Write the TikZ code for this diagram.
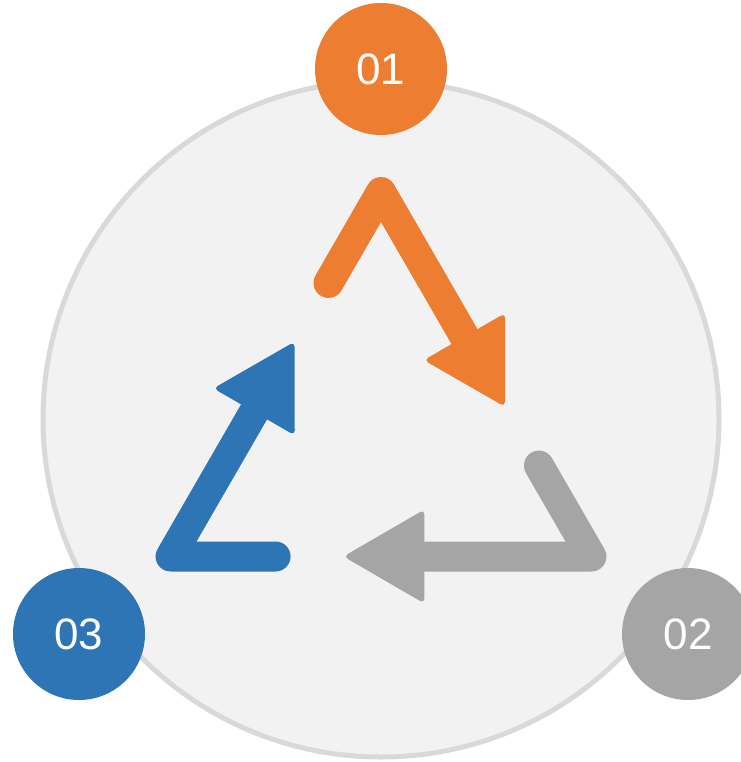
\documentclass[tikz,border=0pt]{standalone}
\usepackage{fontspec}
\setmainfont{Liberation Sans}
\usepackage{tikz}
\definecolor{cycorange}{HTML}{ED7D31}
\definecolor{cycgray}{HTML}{A5A5A5}
\definecolor{cycblue}{HTML}{2E75B6}
\definecolor{discfill}{HTML}{F2F2F2}
\definecolor{discline}{HTML}{D9D9D9}
\tikzset{badge/.style={
    circle, fill=#1, text=white, inner sep=0pt,
    minimum size=132pt, font=\fontsize{44}{52}\selectfont
  },
  shaft/.style={
    line width=30pt, line cap=round, line join=round
  }
}
\begin{document}
\begin{tikzpicture}[x=1pt,y=-1pt]
  \useasboundingbox (0,0) rectangle (740,762);
  \draw[discline, fill=discfill, line width=5pt] (381,419) circle [radius=338];
  \coordinate (ctr) at (381,435);
  \foreach \ang/\col in {0/cycorange,-120/cycgray,120/cycblue} {
    \begin{scope}[shift={(ctr)}, rotate=\ang, \col]
      \draw[shaft] (0,-243) +(120:105) -- (0,-243) -- +(60:175);
      \fill[rounded corners=5pt] (0,-243) ++(60:167) +(-30:47) -- +(60:81) -- +(150:47) -- cycle;
    \end{scope}
  }
  \node[badge=cycorange] (n01) at (381,69) {01};
  \node[badge=cycgray] (n02) at (688,634) {02};
  \node[badge=cycblue] (n03) at (79,634) {03};
\end{tikzpicture}
\end{document}
